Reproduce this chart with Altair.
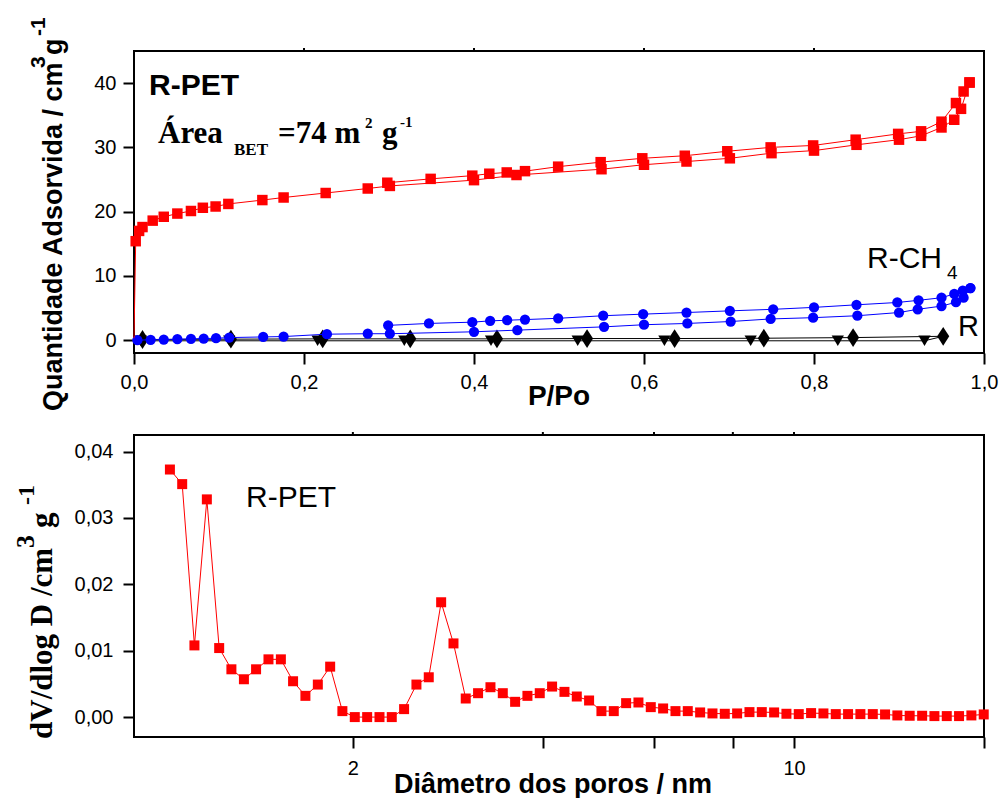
import altair as alt
import pandas as pd

# ---------------- Top panel data (isotherms) ----------------
pet_ads_p = [0.0, 0.002, 0.006, 0.010, 0.022, 0.035, 0.051, 0.067, 0.081, 0.096, 0.111, 0.151, 0.176,
             0.2255, 0.275, 0.301, 0.400, 0.450, 0.550, 0.600, 0.650, 0.701, 0.750, 0.800, 0.850,
             0.900, 0.926, 0.950, 0.965, 0.973, 0.983]
pet_ads_q = [0.3, 15.4, 17.0, 17.6, 18.6, 19.2, 19.7, 20.1, 20.6, 20.8, 21.2, 21.8, 22.2,
             22.9, 23.6, 24.0, 24.9, 25.7, 26.6, 27.3, 27.8, 28.3, 29.1, 29.5, 30.4,
             31.2, 31.8, 33.1, 34.3, 36.0, 40.1]
pet_des_p = [0.983, 0.976, 0.967, 0.950, 0.926, 0.899, 0.849, 0.799, 0.749, 0.698, 0.648, 0.598,
             0.549, 0.499, 0.460, 0.4385, 0.418, 0.398, 0.349, 0.298]
pet_des_q = [40.1, 38.7, 36.9, 34.0, 32.5, 32.1, 31.2, 30.3, 30.0, 29.4, 28.7, 28.3,
             27.7, 27.0, 26.3, 26.1, 25.9, 25.6, 25.1, 24.5]

ch4_ads_p = [0.004, 0.0196, 0.035, 0.051, 0.067, 0.082, 0.0965, 0.112, 0.152, 0.176, 0.227, 0.275,
             0.301, 0.400, 0.451, 0.553, 0.600, 0.651, 0.702, 0.749, 0.799, 0.851, 0.900, 0.922,
             0.950, 0.967, 0.976, 0.984]
ch4_ads_q = [0.0, 0.05, 0.1, 0.15, 0.2, 0.25, 0.3, 0.4, 0.5, 0.56, 0.93, 1.0,
             1.0, 1.3, 1.56, 2.07, 2.4, 2.6, 2.9, 3.3, 3.5, 3.8, 4.3, 4.8,
             5.3, 5.9, 6.6, 8.1]
ch4_des_p = [0.984, 0.975, 0.965, 0.950, 0.923, 0.898, 0.850, 0.800, 0.752, 0.701, 0.650, 0.599,
             0.552, 0.499, 0.460, 0.439, 0.419, 0.398, 0.347, 0.299]
ch4_des_q = [8.1, 7.7, 7.2, 6.6, 6.2, 5.86, 5.5, 5.1, 4.8, 4.56, 4.3, 4.05,
             3.8, 3.4, 3.2, 3.1, 3.0, 2.8, 2.6, 2.3]

r_ads_p = [0.0, 0.008, 0.112, 0.216, 0.318, 0.420, 0.522, 0.624, 0.7255, 0.828, 0.930, 0.952]
r_ads_q = [0.0, -0.1, -0.1, -0.1, -0.1, -0.1, -0.1, -0.1, -0.1, -0.1, -0.1, 0.6]
r_des_p = [0.952, 0.846, 0.741, 0.636, 0.533, 0.427, 0.325, 0.222, 0.114, 0.010]
r_des_q = [0.6, 0.4, 0.3, 0.25, 0.25, 0.2, 0.2, 0.2, 0.15, 0.1]

# ---------------- Bottom panel data (pore size distribution) ----------------
pore_d = [1.026, 1.073, 1.122, 1.174, 1.228, 1.284, 1.344, 1.405, 1.470, 1.538,
          1.608, 1.682, 1.760, 1.841, 1.925, 2.014, 2.107, 2.204, 2.305, 2.411,
          2.522, 2.638, 2.760, 2.887, 3.019, 3.158, 3.304, 3.456, 3.615, 3.781,
          3.955, 4.137, 4.328, 4.527, 4.735, 4.953, 5.181, 5.420, 5.669, 5.930,
          6.203, 6.489, 6.787, 7.100, 7.427, 7.768, 8.126, 8.500, 8.891, 9.300,
          9.727, 10.175, 10.643, 11.133, 11.646, 12.18, 12.74, 13.33, 13.94, 14.58,
          15.25, 15.96, 16.69, 17.46, 18.26, 19.10, 19.98]
pore_dv = [0.0373, 0.0351, 0.0108, 0.0328, 0.0104, 0.0072, 0.0057, 0.0072, 0.0087, 0.0087,
           0.0054, 0.0032, 0.0049, 0.0076, 0.0009, 0.0, 0.0, 0.0, 0.0, 0.0012,
           0.0049, 0.0060, 0.0173, 0.0111, 0.0028, 0.0036, 0.0045, 0.0036, 0.0023, 0.0032,
           0.0036, 0.0046, 0.0038, 0.0031, 0.0025, 0.0009, 0.0009, 0.0021, 0.0022, 0.0015,
           0.0013, 0.0009, 0.0009, 0.0007, 0.00055, 0.0005, 0.00055, 0.00075, 0.00075, 0.0007,
           0.0005, 0.00045, 0.0006, 0.00055, 0.00045, 0.00045, 0.00045, 0.00045, 0.0004, 0.00025,
           0.0002, 0.0002, 0.00015, 0.00015, 0.00015, 0.00025, 0.0004]

top_x_ticks = [0.0, 0.2, 0.4, 0.6, 0.8, 1.0]
top_y_ticks = [0, 10, 20, 30, 40]
bot_x_ticks = [2, 4, 6, 8, 10, 20]
bot_y_ticks = [0.0, 0.01, 0.02, 0.03, 0.04]

# ---------------- Layout constants ----------------
W = 850
H_TOP = 302
H_BOT = 302
TOP_ORIGIN = (133, 50)
BOT_ORIGIN = (133, 434)

SANS = "Liberation Sans"
SERIF = "Liberation Serif"
RED = "#ff0000"
BLUE = "#0000ff"
DIAMOND = "M0,-1.4L0.9,0L0,1.4L-0.9,0Z"


def branches(*pairs):
    frames = []
    for name, xs, ys in pairs:
        frames.append(pd.DataFrame({"p": xs, "q": ys, "idx": list(range(len(xs))), "branch": name}))
    return pd.concat(frames, ignore_index=True)


pet = branches(("ads", pet_ads_p, pet_ads_q), ("des", pet_des_p, pet_des_q))
ch4 = branches(("ads", ch4_ads_p, ch4_ads_q), ("des", ch4_des_p, ch4_des_q))
r_df = branches(("ads", r_ads_p, r_ads_q), ("des", r_des_p, r_des_q))
psd = pd.DataFrame({"d": pore_d, "v": pore_dv})

comma_fmt1 = "replace(format(datum.value, '.1f'), '.', ',')"
comma_fmt2 = "replace(format(datum.value, '.2f'), '.', ',')"

xs_top = alt.X("p:Q", scale=alt.Scale(domain=[0, 1], nice=False, zero=False),
               axis=alt.Axis(values=top_x_ticks, labelExpr=comma_fmt1, title=None,
                             labelPadding=8, tickSize=11, labelFlush=False))
ys_top = alt.Y("q:Q", scale=alt.Scale(domain=[-2, 45], nice=False, zero=False),
               axis=alt.Axis(values=top_y_ticks, format="d", title=None,
                             labelPadding=7, tickSize=11))


def line_layer(df, color):
    return alt.Chart(df).mark_line(color=color, strokeWidth=1).encode(
        x=xs_top, y=ys_top, detail="branch:N", order="idx:Q")


def point_layer(df, color, shape, size):
    return alt.Chart(df).mark_point(
        shape=shape, filled=True, size=size, color=color, opacity=1, strokeWidth=0).encode(
        x=xs_top, y=ys_top)


def txt(text, x, y, origin, size, font=SANS, weight="normal", align="left", angle=0, baseline="alphabetic"):
    ox, oy = origin
    props = dict(text=text, font=font, fontSize=size, fontWeight=weight, align=align,
                 baseline=baseline, color="black")
    if angle:
        props["angle"] = angle
    return alt.Chart(pd.DataFrame({"k": [0]})).mark_text(**props).encode(
        x=alt.value(x - ox), y=alt.value(y - oy))


def anchor(origin):
    ox, oy = origin
    return alt.Chart(pd.DataFrame({"k": [0]})).mark_rule(opacity=0, strokeWidth=0.01).encode(
        x=alt.value(-ox), x2=alt.value(-ox + 1), y=alt.value(-oy), y2=alt.value(-oy))


def top_ticks(values, field, xenc):
    # short outward ticks on the upper frame edge, placed through the shared x scale
    return alt.Chart(pd.DataFrame({field: values})).mark_rule(color="black", strokeWidth=2).encode(
        x=xenc, y=alt.value(-3), y2=alt.value(0))


T = TOP_ORIGIN
r_tri = r_df[(r_df.branch == "ads") & (r_df.p > 0.001) & (r_df.p < 0.95)]
r_dia = r_df[r_df.branch == "des"]
ch4_pts = ch4[ch4.p > 0.001]
pet_pts = pet[pet.p > 0.001]

top_layers = [
    line_layer(r_df, "black"),
    point_layer(r_tri, "black", "triangle-down", 150),
    point_layer(r_dia, "black", DIAMOND, 180),
    line_layer(ch4, BLUE),
    point_layer(ch4_pts, BLUE, "circle", 105),
    line_layer(pet, RED),
    point_layer(pet_pts, RED, "square", 110),
    top_ticks(top_x_ticks[1:-1], "p", xs_top),
    txt("R-PET", 148, 94, T, 30, weight="bold"),
    txt("Área", 157, 141.5, T, 31, font=SERIF, weight="bold"),
    txt("BET", 233, 154, T, 17, font=SERIF, weight="bold"),
    txt("=74 m", 277, 141.5, T, 31, font=SERIF, weight="bold"),
    txt("2", 364, 127, T, 15, font=SERIF, weight="bold"),
    txt("g", 381, 141.5, T, 31, font=SERIF, weight="bold"),
    txt("-1", 399, 126, T, 15, font=SERIF, weight="bold"),
    txt("R-CH", 866, 267, T, 30),
    txt("4", 946, 278, T, 19),
    txt("R", 957, 335, T, 29),
    txt("P/Po", 558, 404, T, 28, weight="bold", align="center"),
    txt("Quantidade Adsorvida / cm", 61, 410, T, 27, weight="bold", angle=270),
    txt("3", 44, 67, T, 21, weight="bold", angle=270),
    txt("g", 61, 54, T, 27, weight="bold", angle=270),
    txt("-1", 44, 35, T, 21, weight="bold", angle=270),
    anchor(T),
]

top = alt.layer(*top_layers).properties(width=W, height=H_TOP)

B = BOT_ORIGIN
xs_bot = alt.X("d:Q", scale=alt.Scale(type="log", domain=[0.9, 20], nice=False),
               axis=alt.Axis(values=bot_x_ticks, title=None, labelPadding=10, tickSize=11,
                             labelExpr="(datum.value == 2 || datum.value == 10) ? datum.value : ''"))
ys_bot = alt.Y("v:Q", scale=alt.Scale(domain=[-0.003, 0.0425], nice=False, zero=False),
               axis=alt.Axis(values=bot_y_ticks, labelExpr=comma_fmt2, title=None,
                             labelPadding=10, tickSize=11))

bot_layers = [
    alt.Chart(psd).mark_line(color=RED, strokeWidth=1).encode(x=xs_bot, y=ys_bot),
    alt.Chart(psd).mark_point(shape="square", filled=True, size=100, color=RED, opacity=1,
                              strokeWidth=0).encode(x=xs_bot, y=ys_bot),
    top_ticks(bot_x_ticks[:-1], "d", xs_bot),
    txt("R-PET", 245, 506, B, 30),
    txt("Diâmetro dos poros / nm", 552, 792, B, 27, weight="bold", align="center"),
    txt("dV/dlog D /cm", 51, 738, B, 31, font=SERIF, weight="bold", angle=270),
    txt("3", 33, 547, B, 26, font=SERIF, weight="bold", angle=270),
    txt("g", 51, 527, B, 31, font=SERIF, weight="bold", angle=270),
    txt("-1", 33, 504, B, 24, font=SERIF, weight="bold", angle=270),
]
bot = alt.layer(*bot_layers).properties(width=W, height=H_BOT)

chart = alt.vconcat(top, bot, spacing=B[1] - T[1] - H_TOP, bounds="flush").properties(
    padding=0
).configure_view(stroke="black", strokeWidth=2).configure_axis(
    labelFont=SANS, labelFontSize=20, labelColor="black", tickColor="black", tickWidth=2,
    domain=False, grid=False
)

chart.save("out.html", embed_options={"renderer": "svg", "actions": False})
